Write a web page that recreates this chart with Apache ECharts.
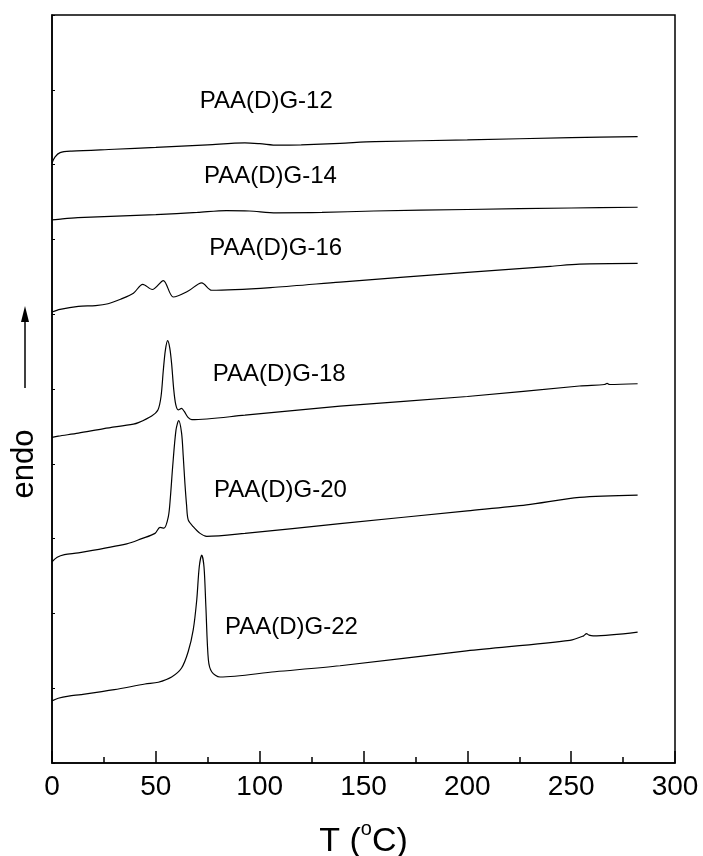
<!DOCTYPE html>
<html>
<head>
<meta charset="utf-8">
<script src="https://cdn.jsdelivr.net/npm/echarts@6/dist/echarts.min.js"></script>
<style>
  html, body { margin: 0; padding: 0; background: #fff; }
  #dsc { width: 703px; height: 856px; }
</style>
</head>
<body>
<div id="dsc"></div>
<script>
// DSC curves, [T (°C), heat flow (offset, a.u.)]
const g12 = [[0, 8.02], [1.4, 8.10], [3.9, 8.16], [9.5, 8.18], [30, 8.205], [50, 8.23], [75, 8.265], [92.9, 8.29], [100, 8.28], [108.8, 8.26], [120, 8.265], [138.7, 8.285], [155.5, 8.306], [200, 8.33], [250, 8.36], [282, 8.373]]
const g14 = [[0, 7.26], [5, 7.275], [12.5, 7.29], [50, 7.33], [70, 7.36], [84, 7.385], [95, 7.38], [108, 7.355], [130, 7.36], [155, 7.38], [200, 7.40], [250, 7.42], [282, 7.43]]
const g16 = [[0, 6.03], [3.9, 6.065], [12.7, 6.105], [21, 6.115], [27, 6.14], [33, 6.2], [39.2, 6.28], [43.7, 6.40], [48.3, 6.33], [53.6, 6.45], [58.4, 6.23], [65.6, 6.31], [72.1, 6.42], [76.9, 6.32], [107.4, 6.36], [138.7, 6.43], [200, 6.56], [240, 6.64], [254, 6.67], [282, 6.68]]
const g18 = [[0, 4.354], [3, 4.37], [12.7, 4.41], [25, 4.47], [39.2, 4.53], [41.6, 4.55], [48, 4.64], [51, 4.72], [52.5, 4.9], [53.6, 5.25], [54.6, 5.52], [55.7, 5.646], [56.7, 5.55], [57.6, 5.34], [58.6, 5.0], [59.6, 4.79], [60.8, 4.72], [62.4, 4.74], [63.7, 4.70], [65.5, 4.62], [67.3, 4.59], [92.9, 4.65], [138.7, 4.77], [200, 4.90], [254, 5.04], [266, 5.06], [267.3, 5.075], [268.5, 5.06], [282, 5.07]]
const g20 = [[0, 2.69], [2.5, 2.75], [6, 2.785], [12.7, 2.81], [36, 2.93], [43.2, 3.0], [49.6, 3.07], [52, 3.15], [53.9, 3.14], [56, 3.29], [57, 3.55], [58.1, 3.96], [59.7, 4.45], [61, 4.576], [62.4, 4.41], [63.2, 4.1], [64, 3.74], [64.8, 3.45], [65.6, 3.25], [68, 3.16], [71.3, 3.07], [74.5, 3.03], [92.9, 3.07], [138.7, 3.2], [200, 3.37], [228.5, 3.45], [254, 3.55], [282, 3.58]]
const g22 = [[0, 0.83], [3, 0.865], [8, 0.895], [14, 0.915], [30, 0.98], [44.8, 1.056], [51.2, 1.08], [57.6, 1.15], [62.4, 1.27], [65.6, 1.49], [68, 1.78], [69.7, 2.18], [70.9, 2.62], [72.1, 2.78], [73.2, 2.62], [74.1, 2.09], [75.3, 1.38], [76.9, 1.22], [80.9, 1.15], [107.4, 1.22], [138.7, 1.30], [199.6, 1.50], [249.4, 1.64], [256, 1.70], [257.4, 1.73], [258.6, 1.71], [260.6, 1.70], [282, 1.75]]

const names = ['PAA(D)G-12', 'PAA(D)G-14', 'PAA(D)G-16', 'PAA(D)G-18', 'PAA(D)G-20', 'PAA(D)G-22']
const curves = [g12, g14, g16, g18, g20, g22]
// where each name sits (left edge, middle), in data units
const labelAt = [[71.2, 8.85], [73.2, 7.84], [75.7, 6.88], [77.4, 5.19], [78, 3.64], [83.3, 1.81]]

const font = '"Liberation Sans", Arial, sans-serif'
const chart = echarts.init(document.getElementById('dsc'))

const option = {
  animation: false,
  backgroundColor: '#fff',
  grid: {
    left: 52,
    right: 28,
    top: 15,
    bottom: 93,
    outerBoundsMode: 'none', // keep the plot box where it is
    show: true,
    borderColor: '#000',
    borderWidth: 1.5,
  },
  xAxis: {
    type: 'value',
    min: 0,
    max: 300,
    interval: 50,
    name: '{t|T (}{sup|o}{t|C)}',
    nameLocation: 'middle',
    nameGap: 56,
    nameTextStyle: {
      fontFamily: font,
      fontSize: 34,
      color: '#000',
      rich: {
        t: { fontFamily: font, fontSize: 34, color: '#000', lineHeight: 40, verticalAlign: 'bottom' },
        sup: { fontFamily: font, fontSize: 20, color: '#000', lineHeight: 20, verticalAlign: 'top' },
      },
    },
    axisLine: { lineStyle: { color: '#000', width: 1.5 } },
    axisTick: { inside: true, length: 12, lineStyle: { color: '#000', width: 1.5 } },
    minorTick: { show: true, splitNumber: 2, length: 6, lineStyle: { color: '#000', width: 1.5 } },
    axisLabel: { fontFamily: font, fontSize: 28, color: '#000', margin: 10 },
    splitLine: { show: false },
  },
  yAxis: {
    type: 'value',
    min: 0,
    max: 10,
    interval: 1,
    axisLine: { show: true, lineStyle: { color: '#000', width: 1.5 } },
    axisTick: { show: true, inside: true, length: 3, lineStyle: { color: '#000', width: 1 } },
    axisLabel: { show: false },
    splitLine: { show: false },
  },
  series: curves.map((d, i) => ({
    name: names[i],
    type: 'line',
    data: d,
    showSymbol: false,
    smooth: 0.3,
    lineStyle: { color: '#000', width: 1.2 },
  })),
}
chart.setOption(option)

// curve names and the endo arrow
const texts = names.map((n, i) => {
  const p = chart.convertToPixel({ gridIndex: 0 }, labelAt[i])
  return {
    type: 'text',
    x: p[0],
    y: p[1],
    style: { text: n, font: '24px ' + font, fill: '#000', textAlign: 'left', textVerticalAlign: 'middle' },
  }
})
chart.setOption({
  graphic: texts.concat([
    {
      type: 'text',
      x: 24,
      y: 464,
      rotation: Math.PI / 2,
      style: { text: 'endo', font: '31px ' + font, fill: '#000', textAlign: 'center', textVerticalAlign: 'middle' },
    },
    { type: 'line', shape: { x1: 25, y1: 388, x2: 25, y2: 318 }, style: { stroke: '#000', lineWidth: 1.5 } },
    { type: 'polygon', shape: { points: [[25, 306], [21, 322], [29, 322]] }, style: { fill: '#000' } },
  ]),
})
</script>
</body>
</html>
